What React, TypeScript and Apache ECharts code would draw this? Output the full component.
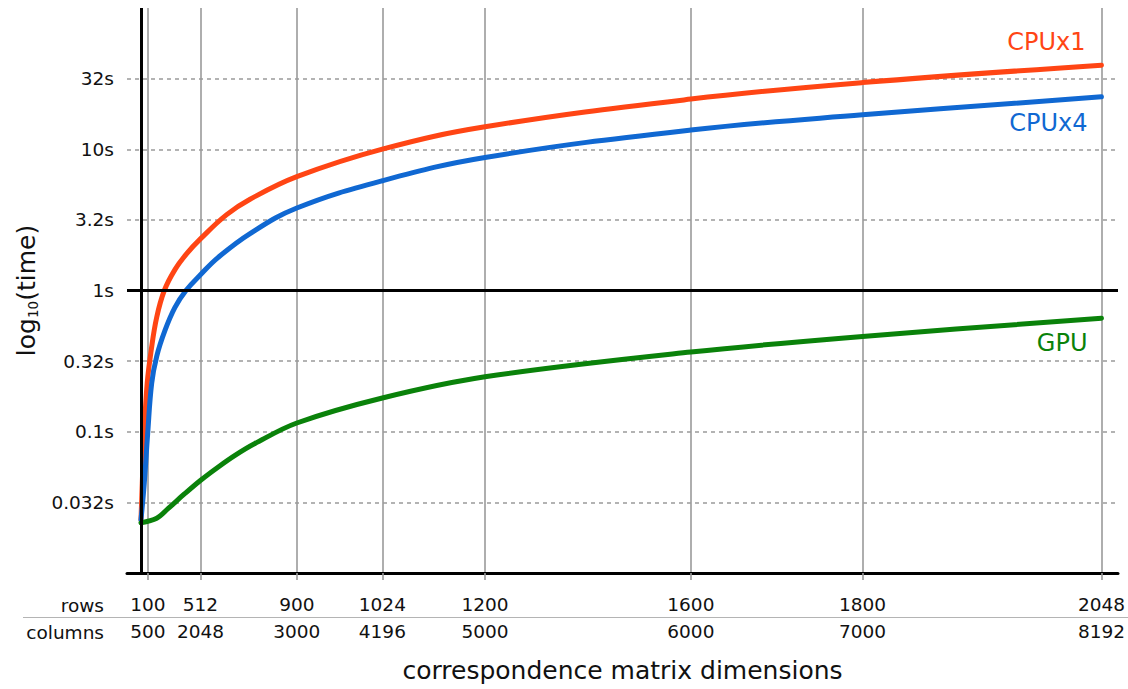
import React, { useEffect, useRef } from 'react';
import * as echarts from 'echarts';

// x axis: matrix size (millions of cells, rows × columns) as placed in the picture
const rowLabels = ['100', '512', '900', '1024', '1200', '1600', '1800', '2048'];
const columnLabels = ['500', '2048', '3000', '4196', '5000', '6000', '7000', '8192'];
const tickCells = [0.05, 0.97, 2.66, 4.16, 5.96, 9.57, 12.58, 16.77];

// y axis: log10(seconds)
const yTickValues = [-1.5, -1, -0.5, 0, 0.5, 1, 1.5];
const yTickLabels = ['0.032s', '0.1s', '0.32s', '1s', '3.2s', '10s', '32s'];

const cpu1Cells = [-0.073, -0.05, -0.017, 0.036, 0.106, 0.203, 0.336, 0.523, 0.729, 0.974, 1.43, 1.84, 2.66, 4.16, 5.96, 9.57, 12.58, 16.77];
const cpu1Log = [-1.625, -1.364, -1.011, -0.657, -0.424, -0.189, 0, 0.148, 0.261, 0.367, 0.537, 0.646, 0.806, 1.001, 1.159, 1.355, 1.472, 1.595];

const cpu4Cells = [-0.073, -0.015, 0.045, 0.115, 0.203, 0.348, 0.523, 0.716, 0.974, 1.277, 1.84, 2.66, 4.16, 5.96, 9.57, 12.58, 16.77];
const cpu4Log = [-1.625, -1.364, -1.011, -0.657, -0.466, -0.283, -0.12, 0, 0.113, 0.233, 0.403, 0.584, 0.777, 0.942, 1.136, 1.244, 1.371];

const gpuCells = [-0.073, 0.203, 0.406, 0.699, 0.974, 1.283, 1.576, 1.926, 2.66, 4.16, 5.96, 9.57, 12.58, 16.77];
const gpuLog = [-1.645, -1.613, -1.543, -1.437, -1.343, -1.249, -1.167, -1.083, -0.938, -0.761, -0.611, -0.436, -0.325, -0.196];

const seriesNames = ['CPUx1', 'CPUx4', 'GPU'];
const seriesColors = ['#FF4514', '#1068D2', '#0A820A'];
const labelOffsets = [[-16, -23], [-14, 26], [-14, 25]];
const seriesSmooth = [0.4, 0.4, 0.35];

const yAxisPosition = -0.073; // where the black vertical axis stands
const FONT = 'DejaVu Sans';
const TEXT = '#111111';
const GRAY = '#9a9a9a';

export default function App() {
  const ref = useRef<HTMLDivElement>(null);

  useEffect(() => {
    document.body.style.margin = '0';
    document.body.style.overflow = 'hidden';
    const chart = echarts.init(ref.current!, null, { renderer: 'svg' });

    const pairs = [
      [cpu1Cells, cpu1Log],
      [cpu4Cells, cpu4Log],
      [gpuCells, gpuLog],
    ];

    const lineSeries = pairs.map(([xs, ys], i) => {
      const data = xs.map((x, k) => [x, ys[k]]);
      const last = data[data.length - 1];
      return {
        type: 'line',
        name: seriesNames[i],
        data,
        showSymbol: false,
        symbol: 'none',
        smooth: seriesSmooth[i],
        z: 2,
        lineStyle: { color: seriesColors[i], width: 5, cap: 'round', join: 'round' },
        itemStyle: { color: seriesColors[i] },
        markPoint: {
          symbol: 'circle',
          symbolSize: 1,
          itemStyle: { color: 'rgba(0,0,0,0)' },
          label: {
            show: true,
            position: 'inside',
            align: 'right',
            verticalAlign: 'middle',
            offset: labelOffsets[i],
            formatter: seriesNames[i],
            color: seriesColors[i],
            fontFamily: FONT,
            fontSize: 24,
          },
          data: [{ coord: last }],
        },
      };
    });

    const option = {
      animation: false,
      backgroundColor: '#ffffff',
      grid: { left: 127, right: 10, top: 8, bottom: 116, containLabel: false },
      xAxis: {
        type: 'value',
        min: -0.318,
        max: 17.06,
        name: 'correspondence matrix dimensions',
        nameLocation: 'middle',
        nameGap: 85,
        nameTextStyle: { fontFamily: FONT, fontSize: 25, color: TEXT },
        axisLine: { show: true, onZero: false, lineStyle: { color: '#000', width: 3 } },
        axisTick: {
          show: true,
          customValues: tickCells,
          length: 7,
          lineStyle: { color: GRAY, width: 1.6 },
        },
        splitLine: { show: true, lineStyle: { color: GRAY, width: 1.6 } },
        axisLabel: {
          customValues: tickCells,
          margin: 18,
          formatter: (v: number) => {
            let idx = 0;
            let best = Infinity;
            tickCells.forEach((t, i) => {
              const d = Math.abs(t - v);
              if (d < best) { best = d; idx = i; }
            });
            return `{r|${rowLabels[idx]}}\n{c|${columnLabels[idx]}}`;
          },
          rich: {
            r: { fontFamily: FONT, fontSize: 18.5, color: TEXT, lineHeight: 27 },
            c: { fontFamily: FONT, fontSize: 18.5, color: TEXT, lineHeight: 27 },
          },
        },
      },
      yAxis: {
        type: 'value',
        min: -2,
        max: 2,
        interval: 0.5,
        name: 'log{sub|10}(time)',
        nameLocation: 'middle',
        nameGap: 86,
        nameTextStyle: {
          fontFamily: FONT,
          fontSize: 25,
          color: TEXT,
          lineHeight: 27,
          rich: {
            sub: { fontFamily: FONT, fontSize: 13.5, color: TEXT, lineHeight: 14, verticalAlign: 'bottom' },
          },
        },
        axisLine: { show: false, onZero: false },
        axisTick: { show: false },
        splitLine: {
          show: true,
          showMinLine: false,
          showMaxLine: false,
          lineStyle: { color: GRAY, width: 1.5, type: [4, 4] },
        },
        axisLabel: {
          margin: 13,
          fontFamily: FONT,
          fontSize: 18.5,
          color: TEXT,
          formatter: (v: number) => {
            const i = yTickValues.findIndex((t) => Math.abs(t - v) < 1e-6);
            return i >= 0 ? yTickLabels[i] : '';
          },
        },
      },
      series: [
        {
          type: 'line',
          data: [],
          z: 1,
          silent: true,
          markLine: {
            silent: true,
            symbol: 'none',
            label: { show: false },
            lineStyle: { color: '#000', width: 3, type: 'solid' },
            data: [{ xAxis: yAxisPosition }],
          },
        },
        ...lineSeries,
        {
          type: 'line',
          data: [],
          z: 5,
          silent: true,
          markLine: {
            silent: true,
            symbol: 'none',
            label: { show: false },
            lineStyle: { color: '#000', width: 3, type: 'solid' },
            data: [{ yAxis: 0 }],
          },
        },
      ],
      graphic: [
        {
          type: 'text',
          x: 104,
          y: 605,
          style: { text: 'rows', fontFamily: FONT, fontSize: 18.5, fill: TEXT, align: 'right', verticalAlign: 'middle' },
        },
        {
          type: 'text',
          x: 104,
          y: 632.5,
          style: { text: 'columns', fontFamily: FONT, fontSize: 18.5, fill: TEXT, align: 'right', verticalAlign: 'middle' },
        },
        {
          type: 'line',
          shape: { x1: 23, y1: 617.5, x2: 1128, y2: 617.5 },
          style: { stroke: '#b4b4b4', lineWidth: 1 },
        },
      ],
    };

    chart.setOption(option as any);
    return () => chart.dispose();
  }, []);

  return <div ref={ref} style={{ width: 1128, height: 689 }} />;
}
